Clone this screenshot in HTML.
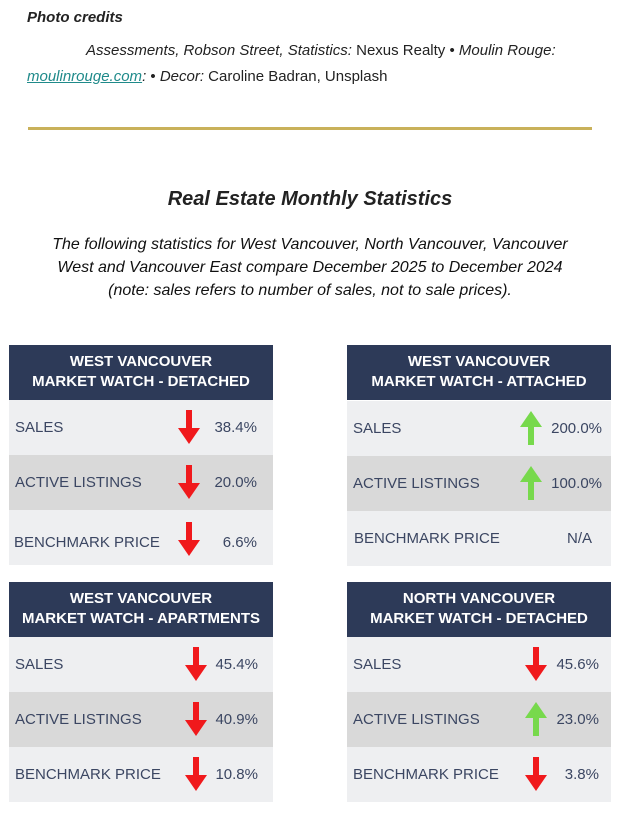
<!DOCTYPE html>
<html><head><meta charset="utf-8"><style>
body{margin:0;width:620px;height:814px;background:#fff;position:relative;font-family:"Liberation Sans",sans-serif;overflow:hidden}
.a{position:absolute}
.card{position:absolute;width:264px}
.hd{position:absolute;left:0;top:0;width:100%;height:55px;background:#2d3a58;color:#fff;font-weight:bold;font-size:15px;text-align:center;line-height:20px;box-sizing:border-box;padding-top:7px}
.row{position:absolute;left:0;width:100%;height:55px;background:#eeeff1;color:#3b4662;font-size:15px}
.row.m{background:#d9d9d9}
.lb{position:absolute;left:6px;top:0;line-height:55px}
.v{position:absolute;top:0;line-height:55px;text-align:right}
.ar{position:absolute;top:10px}
</style></head><body>
<div class="a" style="left:27px;top:9px;font-size:15px;font-weight:bold;font-style:italic;color:#222">Photo credits</div>
<div class="a" style="left:86px;top:42px;font-size:15px;color:#222"><i>Assessments, Robson Street, Statistics:</i> Nexus Realty • <i>Moulin Rouge:</i></div>
<div class="a" style="left:27px;top:68px;font-size:15px;color:#222"><i><u style="color:#1f8a8a">moulinrouge.com</u>:</i> • <i>Decor:</i> Caroline Badran, Unsplash</div>
<div class="a" style="left:28px;top:127px;width:564px;height:3px;background:#c9b15a"></div>
<div class="a" style="left:0;top:188px;width:620px;text-align:center;font-size:20px;font-weight:bold;font-style:italic;color:#222">Real Estate Monthly Statistics</div>
<div class="a" style="left:0;top:233px;width:620px;text-align:center;font-size:16px;font-style:italic;color:#111;line-height:23px">The following statistics for West Vancouver, North Vancouver, Vancouver<br>West and Vancouver East compare December 2025 to December 2024<br>(note: sales refers to number of sales, not to sale prices).</div>

<svg width="0" height="0" style="position:absolute"><defs>
<g id="dn"><rect x="8" y="0" width="6" height="20" fill="#f0191c"/><polygon points="0,18 22,18 11,34" fill="#f0191c"/></g>
<g id="up"><rect x="8" y="14" width="6" height="20" fill="#77d94c"/><polygon points="0,16 22,16 11,0" fill="#77d94c"/></g>
</defs></svg>

<!-- card 1 -->
<div class="card" style="left:9px;top:345px;height:220px">
<div class="hd">WEST VANCOUVER<br>MARKET WATCH - DETACHED</div>
<div class="row" style="top:55px"><span class="lb">SALES</span><svg class="ar" style="left:169px" width="22" height="34"><use href="#dn"/></svg><span class="v" style="right:16px">38.4%</span></div>
<div class="row m" style="top:110px"><span class="lb">ACTIVE LISTINGS</span><svg class="ar" style="left:169px" width="22" height="34"><use href="#dn"/></svg><span class="v" style="right:16px">20.0%</span></div>
<div class="row" style="top:165px"><span class="lb" style="left:5px;top:5px">BENCHMARK PRICE</span><svg class="ar" style="left:169px;top:12px" width="22" height="34"><use href="#dn"/></svg><span class="v" style="right:16px;top:5px">6.6%</span></div>
</div>
<!-- card 2 -->
<div class="card" style="left:347px;top:345px;height:221px">
<div class="hd">WEST VANCOUVER<br>MARKET WATCH - ATTACHED</div>
<div class="row" style="top:56px"><span class="lb">SALES</span><svg class="ar" style="left:173px" width="22" height="34"><use href="#up"/></svg><span class="v" style="right:9px">200.0%</span></div>
<div class="row m" style="top:111px"><span class="lb">ACTIVE LISTINGS</span><svg class="ar" style="left:173px" width="22" height="34"><use href="#up"/></svg><span class="v" style="right:9px">100.0%</span></div>
<div class="row" style="top:166px"><span class="lb" style="left:7px">BENCHMARK PRICE</span><span class="v" style="right:19px">N/A</span></div>
</div>
<!-- card 3 -->
<div class="card" style="left:9px;top:582px;height:220px">
<div class="hd">WEST VANCOUVER<br>MARKET WATCH - APARTMENTS</div>
<div class="row" style="top:55px"><span class="lb">SALES</span><svg class="ar" style="left:176px" width="22" height="34"><use href="#dn"/></svg><span class="v" style="right:15px">45.4%</span></div>
<div class="row m" style="top:110px"><span class="lb">ACTIVE LISTINGS</span><svg class="ar" style="left:176px" width="22" height="34"><use href="#dn"/></svg><span class="v" style="right:15px">40.9%</span></div>
<div class="row" style="top:165px"><span class="lb">BENCHMARK PRICE</span><svg class="ar" style="left:176px" width="22" height="34"><use href="#dn"/></svg><span class="v" style="right:15px">10.8%</span></div>
</div>
<!-- card 4 -->
<div class="card" style="left:347px;top:582px;height:220px">
<div class="hd">NORTH VANCOUVER<br>MARKET WATCH - DETACHED</div>
<div class="row" style="top:55px"><span class="lb">SALES</span><svg class="ar" style="left:178px" width="22" height="34"><use href="#dn"/></svg><span class="v" style="right:12px">45.6%</span></div>
<div class="row m" style="top:110px"><span class="lb">ACTIVE LISTINGS</span><svg class="ar" style="left:178px" width="22" height="34"><use href="#up"/></svg><span class="v" style="right:12px">23.0%</span></div>
<div class="row" style="top:165px"><span class="lb">BENCHMARK PRICE</span><svg class="ar" style="left:178px" width="22" height="34"><use href="#dn"/></svg><span class="v" style="right:12px">3.8%</span></div>
</div>
</body></html>
